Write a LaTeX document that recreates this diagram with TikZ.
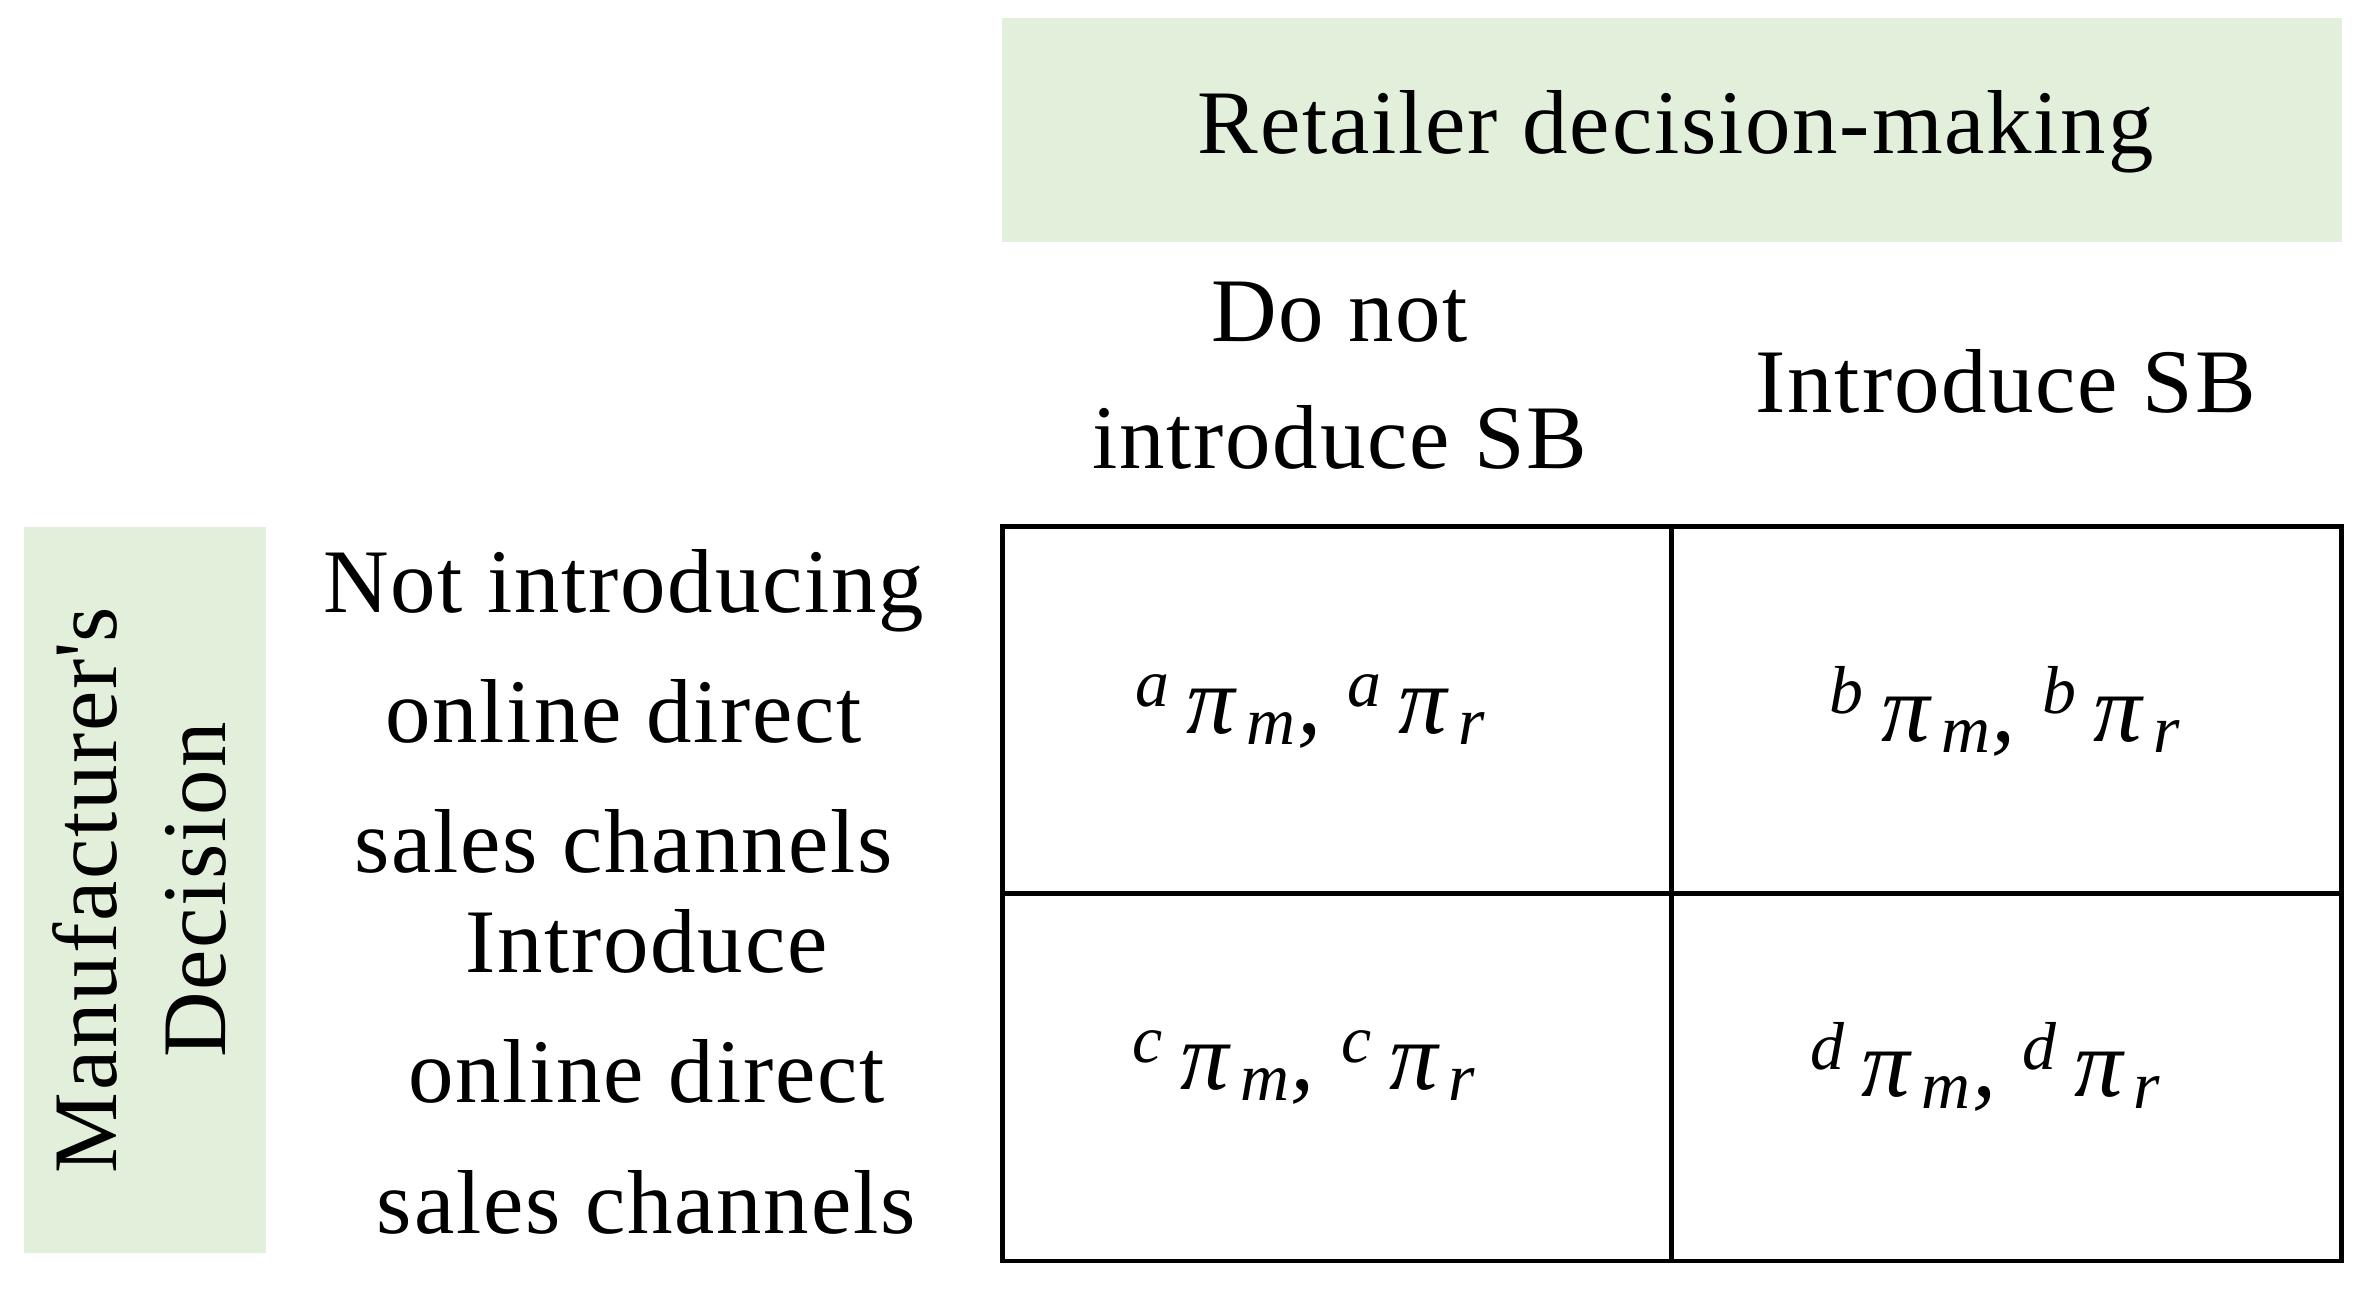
\documentclass[tikz,border=0pt]{standalone}
\usepackage{fontspec}
\setmainfont{Liberation Serif}[LetterSpace=2]
\begin{document}
\begin{tikzpicture}[x=0.5pt,y=-0.5pt,
  lbl/.style={font=\fontsize{30}{40}\selectfont,align=center,inner sep=0pt},
  mth/.style={font=\fontsize{32}{36}\selectfont\itshape,inner sep=0pt}]
\definecolor{gr}{HTML}{E2EFDA}
\useasboundingbox (0,0) rectangle (1563,852);
\fill[gr] (662,12) rectangle (1547,160);
\fill[gr] (16,348) rectangle (176,828);
\draw[line width=1.6pt] (662,348) rectangle (1547,833);
\draw[line width=1.6pt] (1104,348) -- (1104,833) (662,590) -- (1547,590);
\node[lbl] (t) at (1107,87) {Retailer decision-making};
\node[lbl] (c1) at (885,248) {Do not\\[2pt]introduce SB};
\node[lbl] (c2) at (1325,252) {Introduce SB};
\node[lbl] (r1) at (412,470) {Not introducing\\[3pt]online direct\\[3pt]sales channels};
\node[lbl] (r2) at (427,708) {Introduce\\[3pt]online direct\\[3pt]sales channels};
\node[lbl,rotate=90] (m) at (92,588) {Manufacturer\textquotesingle s\\[-4pt]Decision};
\node[mth] (a) at (866,470) {\textsuperscript{a}\,π\textsubscript{\,m}, \textsuperscript{a}\,π\textsubscript{\,r}};
\node[mth] (b) at (1325,470) {\textsuperscript{b}\,π\textsubscript{\,m}, \textsuperscript{b}\,π\textsubscript{\,r}};
\node[mth] (c) at (862,705) {\textsuperscript{c}\,π\textsubscript{\,m}, \textsuperscript{c}\,π\textsubscript{\,r}};
\node[mth] (d) at (1312,705) {\textsuperscript{d}\,π\textsubscript{\,m}, \textsuperscript{d}\,π\textsubscript{\,r}};
\end{tikzpicture}
\end{document}
